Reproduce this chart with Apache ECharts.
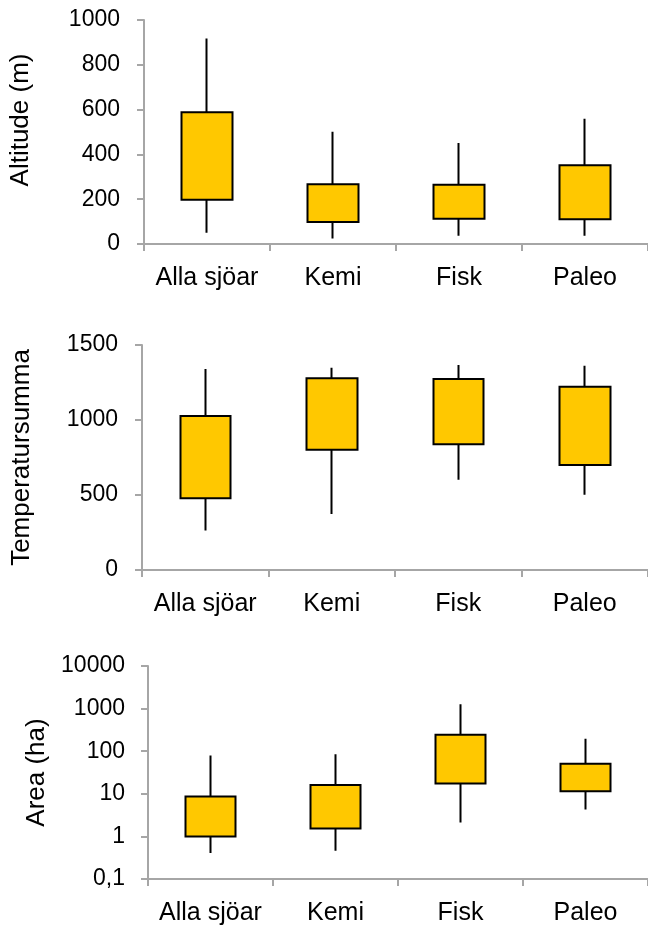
<!DOCTYPE html>
<html>
<head>
<meta charset="utf-8">
<script src="https://cdn.jsdelivr.net/npm/echarts@6/dist/echarts.min.js"></script>
<style>
  html, body { margin: 0; padding: 0; background: #fff; }
  #chart { width: 648px; height: 932px; }
</style>
</head>
<body>
<div id="chart"></div>
<script>
const categories = ['Alla sjöar', 'Kemi', 'Fisk', 'Paleo'];

// each row: [box bottom, box top, whisker low, whisker high]
const altitude = [
    [197, 588, 50, 917],
    [98, 267, 25, 501],
    [113, 264, 37, 451],
    [111, 352, 37, 559]
];
const temperatursumma = [
    [478, 1027, 264, 1340],
    [802, 1278, 373, 1349],
    [838, 1273, 602, 1367],
    [700, 1222, 502, 1362]
];
const area = [
    [1, 8.7, 0.41, 79],
    [1.54, 16, 0.46, 85],
    [17.5, 242, 2.13, 1260],
    [11.5, 51, 4.3, 195]
];

const font = 'Liberation Sans, Arial, sans-serif';
const gray = '#A6A6A6';

// plain numbers, decimal comma, no thousands separator
const fmt = v => String(Number(v.toPrecision(6))).replace('.', ',');

function xAxis(gridIndex) {
    return {
        type: 'category',
        gridIndex: gridIndex,
        data: categories,
        axisLine: { lineStyle: { color: gray, width: 2 } },
        axisTick: { show: true, interval: 0, length: 7, lineStyle: { color: gray, width: 2 } },
        axisLabel: { interval: 0, color: '#000', fontFamily: font, fontSize: 25, margin: 22 },
        splitLine: { show: false }
    };
}

function yAxis(gridIndex, name, gap, pad, extra) {
    return Object.assign({
        type: 'value',
        gridIndex: gridIndex,
        name: name,
        nameLocation: 'middle',
        nameGap: gap,
        nameRotate: 90,
        nameTextStyle: { color: '#000', fontFamily: font, fontSize: 26, padding: pad },
        axisLine: { show: true, lineStyle: { color: gray, width: 2 } },
        axisTick: { show: true, length: 7, lineStyle: { color: gray, width: 2 } },
        axisLabel: { color: '#000', fontFamily: font, fontSize: 23, margin: 24, formatter: fmt },
        splitLine: { show: false }
    }, extra);
}

function boxes(idx, data) {
    return {
        type: 'candlestick',
        xAxisIndex: idx,
        yAxisIndex: idx,
        barWidth: 51,
        data: data,
        itemStyle: {
            color: '#FFC800',
            color0: '#FFC800',
            borderColor: '#000',
            borderColor0: '#000',
            borderWidth: 2
        }
    };
}

const chart = echarts.init(document.getElementById('chart'));
chart.setOption({
    animation: false,
    grid: [
        { left: 142, top: 20, width: 506, height: 224 },
        { left: 142, top: 345, width: 506, height: 225 },
        { left: 148, top: 666, width: 500, height: 213 }
    ],
    xAxis: [xAxis(0), xAxis(1), xAxis(2)],
    yAxis: [
        yAxis(0, 'Altitude (m)', 110, [0, 0, 0, 24], { min: 0, max: 1000, interval: 200 }),
        yAxis(1, 'Temperatursumma', 107, 0, { min: 0, max: 1500, interval: 500 }),
        yAxis(2, 'Area (ha)', 97, 0, {
            type: 'log', logBase: 10, min: 0.1, max: 10000,
            axisLabel: { color: '#000', fontFamily: font, fontSize: 23, margin: 23, formatter: fmt }
        })
    ],
    series: [boxes(0, altitude), boxes(1, temperatursumma), boxes(2, area)]
});
</script>
</body>
</html>
